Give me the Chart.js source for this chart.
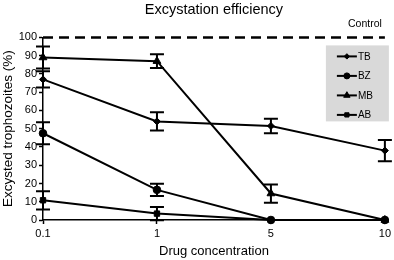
<!DOCTYPE html>
<html lang="en">
<head>
  <meta charset="UTF-8">
  <title>Excystation efficiency</title>
  <script src="https://cdn.jsdelivr.net/npm/chart.js"></script>
  <style>
    html, body { margin: 0; padding: 0; background: #fff; }
    .container { width: 394px; height: 260px; position: relative; }
  </style>
</head>
<body>
  <div class="container">
    <canvas id="chart0"></canvas>
  </div>

  <script>
    /* Data. */
    const concentrations = ["0.1", "1", "5", "10"]
    const yTicks = [0, 10, 20, 30, 40, 50, 60, 70, 80, 90, 100]
    const controlLevel = 100

    const tbValues = [77, 54, 51.5, 38]
    const tbErrors = [4.5, 5, 4, 5.8]
    const bzValues = [47.5, 16.5, 0, 0]
    const bzErrors = [6, 3.3, 0, 0]
    const mbValues = [89, 87, 14.5, 0]
    const mbErrors = [6, 3.8, 5, 0]
    const abValues = [10.8, 3.5, 0, 0]
    const abErrors = [5, 3.6, 0, 0]

    const font = "'Liberation Sans', Arial, sans-serif"
    Chart.defaults.font.family = font
    Chart.defaults.color = "#000"

    /* Vertical error bars with caps. */
    const errorBars = {
      id: "errorBars",
      afterDatasetsDraw(chart) {
        const ctx = chart.ctx
        const y = chart.scales.y
        chart.data.datasets.forEach((ds, i) => {
          if (!ds.errors) return
          const meta = chart.getDatasetMeta(i)
          meta.data.forEach((pt, j) => {
            const err = ds.errors[j]
            if (!err) return
            const top = y.getPixelForValue(ds.data[j] + err)
            const bottom = y.getPixelForValue(ds.data[j] - err)
            ctx.save()
            ctx.strokeStyle = "#000"
            ctx.lineWidth = 2
            ctx.beginPath()
            ctx.moveTo(pt.x, top)
            ctx.lineTo(pt.x, bottom)
            ctx.moveTo(pt.x - 7, top)
            ctx.lineTo(pt.x + 7, top)
            ctx.moveTo(pt.x - 7, bottom)
            ctx.lineTo(pt.x + 7, bottom)
            ctx.stroke()
            ctx.restore()
          })
        })
      }
    }

    /* Grey legend box and the "Control" label. */
    const boxLegend = {
      id: "boxLegend",
      afterDraw(chart) {
        const ctx = chart.ctx
        const area = chart.chartArea
        const bx = area.right - 59
        const by = area.top + 8
        ctx.save()
        ctx.fillStyle = "#d9d9d9"
        ctx.fillRect(bx, by, 63, 76)

        chart.data.datasets.forEach((ds, i) => {
          if (!ds.inLegend) return
          const ly = by + 11 + (i - 1) * 19.5
          ctx.strokeStyle = "#000"
          ctx.fillStyle = "#000"
          ctx.lineWidth = 2
          ctx.beginPath()
          ctx.moveTo(bx + 11, ly)
          ctx.lineTo(bx + 31, ly)
          ctx.stroke()
          ctx.lineWidth = 1
          Chart.helpers.drawPoint(ctx, {
            pointStyle: ds.pointStyle,
            radius: ds.pointRadius - 0.8,
            borderWidth: 1
          }, bx + 21, ly)
          ctx.font = "10px " + font
          ctx.textAlign = "left"
          ctx.textBaseline = "middle"
          ctx.fillText(ds.label, bx + 32, ly + 0.5)
        })

        ctx.font = "10.5px " + font
        ctx.textAlign = "right"
        ctx.textBaseline = "middle"
        ctx.fillStyle = "#000"
        ctx.fillText("Control", area.right - 3, 24)
        ctx.restore()
      }
    }

    const series = (label, values, errors, style, radius) => ({
      label: label,
      data: values,
      errors: errors,
      inLegend: true,
      borderColor: "#000",
      backgroundColor: "#000",
      borderWidth: 2,
      pointStyle: style,
      pointRadius: radius,
      pointBorderWidth: 1,
      tension: 0,
      clip: false
    })

    const ctx0 = document.getElementById("chart0").getContext("2d")
    const myChart0 = new Chart(ctx0, {
      type: "line",
      data: {
        labels: concentrations,
        datasets: [{
          label: "Control",
          data: concentrations.map(() => controlLevel),
          borderColor: "#000",
          borderWidth: 2.5,
          borderDash: [10, 6],
          pointRadius: 0,
          clip: false
        },
          series("TB", tbValues, tbErrors, "rectRot", 3.5),
          series("BZ", bzValues, bzErrors, "circle", 3.8),
          series("MB", mbValues, mbErrors, "triangle", 4.5),
          series("AB", abValues, abErrors, "rect", 3.8)
        ]
      },
      options: {
        responsive: true,
        maintainAspectRatio: false,
        animation: false,
        layout: { padding: { top: 0, right: 7, bottom: 0, left: 0 } },
        scales: {
          x: {
            offset: false,
            grid: { display: true, drawOnChartArea: false, tickLength: 4, color: "#000", tickWidth: 1.5 },
            border: { color: "#000", width: 1.5 },
            ticks: { padding: 3, font: { size: 11 } },
            title: { display: true, text: "Drug concentration", font: { size: 13 }, padding: { top: 4, bottom: 1 } },
            afterFit(scale) { scale.height = 40 }
          },
          y: {
            min: 0,
            max: 100,
            afterBuildTicks(scale) { scale.ticks = yTicks.map(v => ({ value: v })) },
            grid: { display: true, drawOnChartArea: false, tickLength: 4, color: "#000", tickWidth: 1.5 },
            border: { color: "#000", width: 1.5 },
            ticks: { padding: 2, font: { size: 11 } },
            title: { display: true, text: "Excysted trophozoites (%)", font: { size: 13.5 }, padding: { top: 0, bottom: 0 } },
            afterFit(scale) { scale.width = 43 }
          }
        },
        plugins: {
          legend: { display: false },
          tooltip: { enabled: false },
          title: {
            display: true,
            fullSize: false,
            text: "Excystation efficiency",
            font: { size: 14.5, weight: "normal" },
            padding: { top: 1, bottom: 19 }
          }
        }
      },
      plugins: [errorBars, boxLegend]
    })
  </script>
</body>
</html>
